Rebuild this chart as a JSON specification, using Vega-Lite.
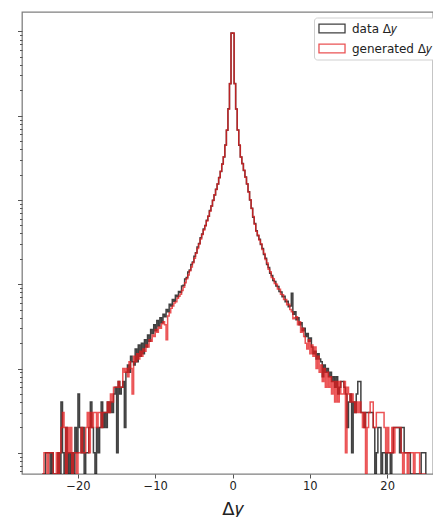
{
  "$schema": "https://vega.github.io/schema/vega-lite/v6.json",
  "width": 411,
  "height": 462,
  "autosize": {"type": "none"},
  "padding": {"left": 22, "top": 12, "right": 0, "bottom": 43},
  "background": "white",
  "config": {
    "font": "DejaVu Sans",
    "view": {"stroke": "#808080", "strokeWidth": 1.3},
    "axis": {"domain": false, "grid": false, "tickColor": "#555555", "tickWidth": 1, "labelColor": "#222222", "titleColor": "#222222", "labelFont": "DejaVu Sans", "titleFont": "DejaVu Sans"}
  },
  "data": {"values": [
    {"x": -24.6, "data": 0, "generated": 0},
    {"x": -24.4, "data": 0, "generated": 1},
    {"x": -24.2, "data": 1, "generated": 1},
    {"x": -24.0, "data": 1, "generated": 0},
    {"x": -23.8, "data": 1, "generated": 1},
    {"x": -23.6, "data": 0, "generated": 1},
    {"x": -23.4, "data": 1, "generated": 1},
    {"x": -23.2, "data": 0, "generated": 0},
    {"x": -23.0, "data": 0, "generated": 0},
    {"x": -22.8, "data": 0, "generated": 1},
    {"x": -22.6, "data": 1, "generated": 0},
    {"x": -22.4, "data": 0, "generated": 1},
    {"x": -22.2, "data": 4, "generated": 2},
    {"x": -22.0, "data": 1, "generated": 3},
    {"x": -21.8, "data": 0, "generated": 2},
    {"x": -21.6, "data": 2, "generated": 0},
    {"x": -21.4, "data": 0, "generated": 2},
    {"x": -21.2, "data": 1, "generated": 1},
    {"x": -21.0, "data": 0, "generated": 2},
    {"x": -20.8, "data": 1, "generated": 0},
    {"x": -20.6, "data": 0, "generated": 1},
    {"x": -20.4, "data": 2, "generated": 1},
    {"x": -20.2, "data": 1, "generated": 0},
    {"x": -20.0, "data": 5, "generated": 1},
    {"x": -19.8, "data": 2, "generated": 1},
    {"x": -19.6, "data": 1, "generated": 2},
    {"x": -19.4, "data": 2, "generated": 1},
    {"x": -19.2, "data": 0, "generated": 1},
    {"x": -19.0, "data": 1, "generated": 2},
    {"x": -18.8, "data": 1, "generated": 3},
    {"x": -18.6, "data": 2, "generated": 1},
    {"x": -18.4, "data": 4, "generated": 3},
    {"x": -18.2, "data": 2, "generated": 2},
    {"x": -18.0, "data": 1, "generated": 3},
    {"x": -17.8, "data": 0, "generated": 3},
    {"x": -17.6, "data": 2, "generated": 2},
    {"x": -17.4, "data": 1, "generated": 3},
    {"x": -17.2, "data": 2, "generated": 3},
    {"x": -17.0, "data": 4, "generated": 2},
    {"x": -16.8, "data": 2, "generated": 3},
    {"x": -16.6, "data": 3, "generated": 3},
    {"x": -16.4, "data": 2, "generated": 3},
    {"x": -16.2, "data": 4, "generated": 4},
    {"x": -16.0, "data": 3, "generated": 3},
    {"x": -15.8, "data": 4, "generated": 5},
    {"x": -15.6, "data": 3, "generated": 4},
    {"x": -15.4, "data": 5, "generated": 6},
    {"x": -15.2, "data": 6, "generated": 6},
    {"x": -15.0, "data": 1, "generated": 6},
    {"x": -14.8, "data": 7, "generated": 7},
    {"x": -14.6, "data": 5, "generated": 6},
    {"x": -14.4, "data": 6, "generated": 6},
    {"x": -14.2, "data": 7, "generated": 10},
    {"x": -14.0, "data": 2, "generated": 9},
    {"x": -13.8, "data": 9, "generated": 10},
    {"x": -13.6, "data": 11, "generated": 8},
    {"x": -13.4, "data": 9, "generated": 12},
    {"x": -13.2, "data": 14, "generated": 10},
    {"x": -13.0, "data": 12, "generated": 5},
    {"x": -12.8, "data": 11, "generated": 14},
    {"x": -12.6, "data": 17, "generated": 12},
    {"x": -12.4, "data": 12, "generated": 15},
    {"x": -12.2, "data": 19, "generated": 13},
    {"x": -12.0, "data": 14, "generated": 16},
    {"x": -11.8, "data": 20, "generated": 14},
    {"x": -11.6, "data": 15, "generated": 17},
    {"x": -11.4, "data": 22, "generated": 16},
    {"x": -11.2, "data": 18, "generated": 19},
    {"x": -11.0, "data": 25, "generated": 18},
    {"x": -10.8, "data": 21, "generated": 22},
    {"x": -10.6, "data": 29, "generated": 21},
    {"x": -10.4, "data": 26, "generated": 25},
    {"x": -10.2, "data": 33, "generated": 24},
    {"x": -10.0, "data": 28, "generated": 29},
    {"x": -9.8, "data": 37, "generated": 27},
    {"x": -9.6, "data": 32, "generated": 31},
    {"x": -9.4, "data": 40, "generated": 30},
    {"x": -9.2, "data": 35, "generated": 34},
    {"x": -9.0, "data": 44, "generated": 36},
    {"x": -8.8, "data": 41, "generated": 33},
    {"x": -8.6, "data": 50, "generated": 22},
    {"x": -8.4, "data": 47, "generated": 42},
    {"x": -8.2, "data": 58, "generated": 46},
    {"x": -8.0, "data": 55, "generated": 52},
    {"x": -7.8, "data": 66, "generated": 55},
    {"x": -7.6, "data": 63, "generated": 60},
    {"x": -7.4, "data": 74, "generated": 62},
    {"x": -7.2, "data": 71, "generated": 68},
    {"x": -7.0, "data": 82, "generated": 72},
    {"x": -6.8, "data": 80, "generated": 76},
    {"x": -6.6, "data": 95, "generated": 84},
    {"x": -6.4, "data": 97, "generated": 92},
    {"x": -6.2, "data": 115, "generated": 104},
    {"x": -6.0, "data": 120, "generated": 116},
    {"x": -5.8, "data": 140, "generated": 129},
    {"x": -5.6, "data": 148, "generated": 145},
    {"x": -5.4, "data": 172, "generated": 160},
    {"x": -5.2, "data": 183, "generated": 180},
    {"x": -5.0, "data": 215, "generated": 204},
    {"x": -4.8, "data": 236, "generated": 233},
    {"x": -4.6, "data": 277, "generated": 265},
    {"x": -4.4, "data": 305, "generated": 300},
    {"x": -4.2, "data": 356, "generated": 344},
    {"x": -4.0, "data": 394, "generated": 390},
    {"x": -3.8, "data": 452, "generated": 440},
    {"x": -3.6, "data": 497, "generated": 493},
    {"x": -3.4, "data": 575, "generated": 562},
    {"x": -3.2, "data": 642, "generated": 640},
    {"x": -3.0, "data": 748, "generated": 736},
    {"x": -2.8, "data": 846, "generated": 848},
    {"x": -2.6, "data": 995, "generated": 984},
    {"x": -2.4, "data": 1142, "generated": 1150},
    {"x": -2.2, "data": 1340, "generated": 1330},
    {"x": -2.0, "data": 1545, "generated": 1552},
    {"x": -1.8, "data": 1850, "generated": 1838},
    {"x": -1.6, "data": 2180, "generated": 2195},
    {"x": -1.4, "data": 2670, "generated": 2655},
    {"x": -1.2, "data": 3230, "generated": 3250},
    {"x": -1.0, "data": 4480, "generated": 4460},
    {"x": -0.8, "data": 6740, "generated": 6780},
    {"x": -0.6, "data": 12050, "generated": 11950},
    {"x": -0.4, "data": 23900, "generated": 24100},
    {"x": -0.2, "data": 95800, "generated": 95200},
    {"x": 0.0, "data": 95200, "generated": 95600},
    {"x": 0.2, "data": 24100, "generated": 23950},
    {"x": 0.4, "data": 11980, "generated": 12040},
    {"x": 0.6, "data": 6770, "generated": 6750},
    {"x": 0.8, "data": 4460, "generated": 4480},
    {"x": 1.0, "data": 3245, "generated": 3230},
    {"x": 1.2, "data": 2700, "generated": 2685},
    {"x": 1.4, "data": 2230, "generated": 2248},
    {"x": 1.6, "data": 1878, "generated": 1865},
    {"x": 1.8, "data": 1545, "generated": 1556},
    {"x": 2.0, "data": 1252, "generated": 1240},
    {"x": 2.2, "data": 996, "generated": 1004},
    {"x": 2.4, "data": 800, "generated": 790},
    {"x": 2.6, "data": 625, "generated": 636},
    {"x": 2.8, "data": 524, "generated": 515},
    {"x": 3.0, "data": 430, "generated": 424},
    {"x": 3.2, "data": 376, "generated": 385},
    {"x": 3.4, "data": 342, "generated": 335},
    {"x": 3.6, "data": 296, "generated": 303},
    {"x": 3.8, "data": 266, "generated": 259},
    {"x": 4.0, "data": 226, "generated": 232},
    {"x": 4.2, "data": 203, "generated": 197},
    {"x": 4.4, "data": 172, "generated": 179},
    {"x": 4.6, "data": 158, "generated": 151},
    {"x": 4.8, "data": 135, "generated": 141},
    {"x": 5.0, "data": 127, "generated": 120},
    {"x": 5.2, "data": 111, "generated": 116},
    {"x": 5.4, "data": 108, "generated": 102},
    {"x": 5.6, "data": 95, "generated": 100},
    {"x": 5.8, "data": 94, "generated": 88},
    {"x": 6.0, "data": 82, "generated": 87},
    {"x": 6.2, "data": 81, "generated": 76},
    {"x": 6.4, "data": 71, "generated": 75},
    {"x": 6.6, "data": 72, "generated": 66},
    {"x": 6.8, "data": 62, "generated": 66},
    {"x": 7.0, "data": 63, "generated": 57},
    {"x": 7.2, "data": 54, "generated": 58},
    {"x": 7.4, "data": 55, "generated": 50},
    {"x": 7.6, "data": 78, "generated": 47},
    {"x": 7.8, "data": 44, "generated": 39},
    {"x": 8.0, "data": 47, "generated": 40},
    {"x": 8.2, "data": 38, "generated": 41},
    {"x": 8.4, "data": 40, "generated": 33},
    {"x": 8.6, "data": 33, "generated": 36},
    {"x": 8.8, "data": 35, "generated": 27},
    {"x": 9.0, "data": 28, "generated": 30},
    {"x": 9.2, "data": 30, "generated": 24},
    {"x": 9.4, "data": 24, "generated": 20},
    {"x": 9.6, "data": 26, "generated": 17},
    {"x": 9.8, "data": 21, "generated": 22},
    {"x": 10.0, "data": 23, "generated": 15},
    {"x": 10.2, "data": 18, "generated": 19},
    {"x": 10.4, "data": 15, "generated": 14},
    {"x": 10.6, "data": 16, "generated": 18},
    {"x": 10.8, "data": 13, "generated": 10},
    {"x": 11.0, "data": 15, "generated": 14},
    {"x": 11.2, "data": 13, "generated": 9},
    {"x": 11.4, "data": 12, "generated": 11},
    {"x": 11.6, "data": 8, "generated": 7},
    {"x": 11.8, "data": 11, "generated": 10},
    {"x": 12.0, "data": 9, "generated": 6},
    {"x": 12.2, "data": 10, "generated": 9},
    {"x": 12.4, "data": 8, "generated": 6},
    {"x": 12.6, "data": 9, "generated": 8},
    {"x": 12.8, "data": 7, "generated": 5},
    {"x": 13.0, "data": 8, "generated": 7},
    {"x": 13.2, "data": 6, "generated": 4},
    {"x": 13.4, "data": 8, "generated": 7},
    {"x": 13.6, "data": 5, "generated": 4},
    {"x": 13.8, "data": 6, "generated": 7},
    {"x": 14.0, "data": 7, "generated": 5},
    {"x": 14.2, "data": 7, "generated": 5},
    {"x": 14.4, "data": 6, "generated": 7},
    {"x": 14.6, "data": 5, "generated": 1},
    {"x": 14.8, "data": 2, "generated": 6},
    {"x": 15.0, "data": 4, "generated": 5},
    {"x": 15.2, "data": 5, "generated": 4},
    {"x": 15.4, "data": 1, "generated": 5},
    {"x": 15.6, "data": 4, "generated": 4},
    {"x": 15.8, "data": 3, "generated": 3},
    {"x": 16.0, "data": 5, "generated": 4},
    {"x": 16.2, "data": 7, "generated": 3},
    {"x": 16.4, "data": 7, "generated": 4},
    {"x": 16.6, "data": 3, "generated": 3},
    {"x": 16.8, "data": 3, "generated": 2},
    {"x": 17.0, "data": 2, "generated": 3},
    {"x": 17.2, "data": 3, "generated": 0},
    {"x": 17.4, "data": 3, "generated": 2},
    {"x": 17.6, "data": 3, "generated": 3},
    {"x": 17.8, "data": 3, "generated": 4},
    {"x": 18.0, "data": 3, "generated": 4},
    {"x": 18.2, "data": 2, "generated": 2},
    {"x": 18.4, "data": 0, "generated": 2},
    {"x": 18.6, "data": 1, "generated": 3},
    {"x": 18.8, "data": 2, "generated": 3},
    {"x": 19.0, "data": 2, "generated": 3},
    {"x": 19.2, "data": 0, "generated": 3},
    {"x": 19.4, "data": 1, "generated": 3},
    {"x": 19.6, "data": 1, "generated": 2},
    {"x": 19.8, "data": 0, "generated": 1},
    {"x": 20.0, "data": 1, "generated": 2},
    {"x": 20.2, "data": 1, "generated": 1},
    {"x": 20.4, "data": 0, "generated": 1},
    {"x": 20.6, "data": 1, "generated": 2},
    {"x": 20.8, "data": 2, "generated": 1},
    {"x": 21.0, "data": 2, "generated": 2},
    {"x": 21.2, "data": 2, "generated": 2},
    {"x": 21.4, "data": 2, "generated": 2},
    {"x": 21.6, "data": 1, "generated": 2},
    {"x": 21.8, "data": 2, "generated": 1},
    {"x": 22.0, "data": 2, "generated": 0},
    {"x": 22.2, "data": 1, "generated": 1},
    {"x": 22.4, "data": 1, "generated": 1},
    {"x": 22.6, "data": 1, "generated": 0},
    {"x": 22.8, "data": 1, "generated": 1},
    {"x": 23.0, "data": 0, "generated": 1},
    {"x": 23.2, "data": 0, "generated": 1},
    {"x": 23.4, "data": 0, "generated": 0},
    {"x": 23.6, "data": 0, "generated": 1},
    {"x": 23.8, "data": 0, "generated": 1},
    {"x": 24.0, "data": 0, "generated": 1},
    {"x": 24.2, "data": 0, "generated": 0},
    {"x": 24.4, "data": 1, "generated": 0},
    {"x": 24.6, "data": 1, "generated": 0},
    {"x": 24.8, "data": 1, "generated": 0},
    {"x": 25.0, "data": 0, "generated": 0}
  ]},
  "transform": [{"fold": ["data", "generated"], "as": ["series", "count"]}],
  "mark": {"type": "line", "interpolate": "step-after", "strokeWidth": 1.5, "opacity": 0.75, "clip": true, "invalid": null},
  "encoding": {
    "x": {
      "field": "x", "type": "quantitative",
      "scale": {"domain": [-27.24, 25.93], "nice": false, "zero": false},
      "axis": {"values": [-20, -10, 0, 10, 20], "tickSize": 4, "labelFontSize": 11.5, "labelPadding": 2, "title": "Δ𝑦", "titleFontSize": 18, "titleFontWeight": "normal", "titleX": 210, "titleY": 40, "titleAlign": "center", "titleBaseline": "alphabetic"}
    },
    "y": {
      "field": "count", "type": "quantitative",
      "scale": {"type": "log", "domain": [0.56, 170000], "nice": false, "clamp": true},
      "axis": {
        "values": [0.6, 0.7, 0.8, 0.9, 1, 2, 3, 4, 5, 6, 7, 8, 9, 10, 20, 30, 40, 50, 60, 70, 80, 90, 100, 200, 300, 400, 500, 600, 700, 800, 900, 1000, 2000, 3000, 4000, 5000, 6000, 7000, 8000, 9000, 10000, 20000, 30000, 40000, 50000, 60000, 70000, 80000, 90000, 100000],
        "labels": false, "title": null,
        "tickSize": {"condition": {"test": "datum.value >= 1 && abs(log(datum.value)/LN10 - round(log(datum.value)/LN10)) < 0.001", "value": 4.5}, "value": 2.5}
      }
    },
    "color": {
      "field": "series", "type": "nominal",
      "scale": {"domain": ["data", "generated"], "range": ["#000000", "#e41a1c"]},
      "legend": {"title": null, "orient": "none", "legendX": 292, "legendY": 5.5, "labelExpr": "datum.label + ' Δ𝑦'", "symbolType": "M-2.17,-0.72H2.17V0.72H-2.17Z", "symbolSize": 144, "symbolOffset": 7, "symbolStrokeWidth": 1.3, "symbolOpacity": 0.75, "labelFontSize": 12, "labelFont": "DejaVu Sans", "labelColor": "#222222", "labelOffset": 13, "strokeColor": "#d0d0d0", "fillColor": "white", "cornerRadius": 3, "padding": 4, "rowPadding": 6}
    }
  }
}
